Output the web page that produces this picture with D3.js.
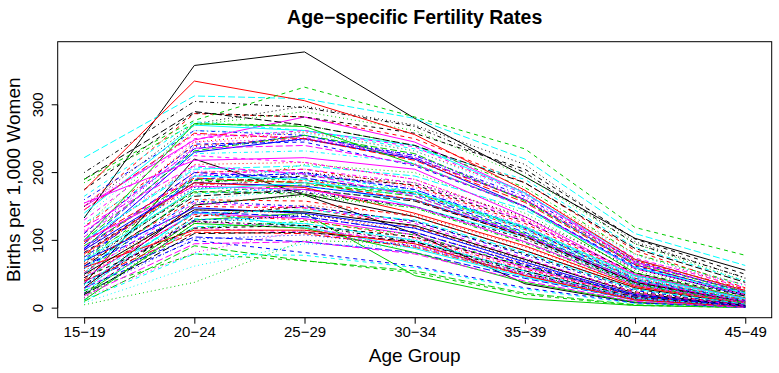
<!DOCTYPE html>
<html>
<head>
<meta charset="utf-8">
<script src="https://cdn.jsdelivr.net/npm/d3@7/dist/d3.min.js"></script>
<style>
  body { margin: 0; background: #fff; }
  text { font-family: "Liberation Sans", Arial, Helvetica, sans-serif; fill: #000; }
</style>
</head>
<body>
<svg width="779" height="373"></svg>
<script>
// age groups (x categories) and y axis ticks
const ageGroups = ["15\u221219", "20\u221224", "25\u221229", "30\u221234", "35\u221239", "40\u221244", "45\u221249"];
const yTicks = [0, 100, 200, 300];

// births per 1,000 women, one row per population
// each block of 30 runs through the full colour x line-type cycle
const ratesA = [
  [133, 358, 378, 280, 194, 103, 56],
  [150, 287, 282, 250, 185, 85, 30],
  [120, 270, 290, 262, 195, 95, 40],
  [160, 262, 255, 225, 165, 70, 22],
  [222, 313, 309, 280, 220, 110, 63],
  [150, 248, 282, 245, 170, 68, 24],
  [175, 288, 282, 258, 205, 102, 50],
  [110, 245, 260, 232, 172, 80, 28],
  [185, 272, 270, 240, 178, 80, 34],
  [95, 235, 255, 222, 160, 64, 20],
  [140, 270, 262, 240, 170, 72, 26],
  [130, 250, 262, 238, 168, 74, 30],
  [150, 272, 298, 270, 212, 98, 44],
  [120, 240, 250, 220, 160, 70, 28],
  [100, 232, 255, 228, 158, 66, 24],
  [88, 230, 250, 220, 150, 60, 18],
  [165, 275, 262, 235, 190, 90, 40],
  [155, 245, 250, 226, 162, 72, 35],
  [200, 305, 296, 268, 200, 95, 45],
  [145, 258, 250, 218, 156, 64, 20],
  [100, 272, 268, 212, 150, 52, 15],
  [110, 242, 245, 210, 150, 62, 22],
  [135, 262, 258, 232, 168, 78, 33],
  [145, 256, 252, 222, 160, 66, 26],
  [190, 290, 270, 240, 185, 88, 38],
  [174, 335, 306, 256, 174, 72, 26],
  [190, 277, 326, 282, 235, 119, 78],
  [105, 238, 248, 226, 160, 68, 24],
  [125, 228, 232, 214, 148, 60, 22],
  [112, 236, 240, 212, 150, 58, 20]
];

const ratesB = [
  [36, 220, 167, 110, 36, 8, 2],
  [85, 200, 205, 180, 125, 48, 14],
  [60, 178, 212, 200, 140, 55, 18],
  [72, 195, 198, 175, 120, 44, 12],
  [100, 205, 210, 195, 145, 60, 22],
  [155, 218, 222, 205, 135, 50, 14],
  [82, 185, 195, 182, 128, 52, 18],
  [95, 212, 215, 190, 132, 50, 16],
  [70, 188, 190, 172, 118, 42, 12],
  [88, 200, 192, 168, 112, 40, 10],
  [50, 195, 190, 150, 105, 36, 8],
  [105, 225, 215, 190, 130, 48, 14],
  [65, 175, 200, 185, 135, 58, 20],
  [78, 182, 188, 170, 116, 44, 12],
  [92, 190, 185, 165, 110, 40, 10],
  [86, 185, 180, 160, 108, 38, 9],
  [58, 168, 178, 168, 118, 46, 14],
  [115, 202, 200, 178, 122, 46, 13],
  [68, 172, 170, 150, 102, 36, 9],
  [98, 192, 185, 160, 105, 38, 10],
  [20, 130, 140, 48, 14, 4, 1],
  [75, 190, 200, 175, 118, 42, 11],
  [48, 160, 175, 160, 112, 44, 13],
  [90, 196, 205, 185, 128, 50, 15],
  [62, 165, 175, 158, 106, 38, 10],
  [80, 185, 178, 140, 92, 32, 8],
  [52, 170, 182, 170, 120, 48, 16],
  [82, 178, 172, 150, 98, 34, 8],
  [100, 208, 198, 172, 115, 42, 11],
  [120, 210, 198, 165, 108, 40, 10]
];

const ratesC = [
  [30, 152, 168, 135, 85, 30, 6],
  [42, 150, 148, 120, 72, 24, 5],
  [5, 38, 100, 95, 50, 14, 2],
  [34, 130, 135, 112, 65, 20, 4],
  [25, 120, 125, 100, 55, 16, 3],
  [45, 140, 132, 108, 60, 18, 3],
  [22, 135, 150, 128, 80, 28, 6],
  [55, 145, 140, 112, 66, 20, 4],
  [18, 118, 128, 108, 62, 18, 3],
  [40, 105, 98, 82, 44, 12, 2],
  [28, 142, 120, 88, 46, 12, 2],
  [38, 128, 118, 96, 52, 15, 3],
  [15, 125, 138, 118, 70, 24, 5],
  [48, 138, 130, 104, 58, 17, 3],
  [10, 92, 70, 55, 22, 5, 1],
  [70, 148, 140, 118, 68, 20, 4],
  [12, 80, 78, 60, 28, 7, 1],
  [15, 82, 115, 102, 56, 16, 3],
  [35, 128, 122, 98, 52, 14, 2],
  [40, 112, 110, 90, 48, 13, 2],
  [12, 125, 118, 82, 38, 9, 1],
  [30, 100, 82, 62, 30, 8, 1],
  [8, 62, 95, 90, 48, 14, 2],
  [28, 118, 112, 92, 50, 14, 2],
  [20, 110, 112, 98, 55, 16, 3],
  [60, 115, 115, 95, 48, 12, 2],
  [26, 80, 70, 52, 20, 4, 1],
  [22, 102, 108, 92, 50, 14, 2],
  [45, 132, 125, 100, 54, 15, 3],
  [18, 95, 98, 80, 40, 10, 1]
];

const ratesD = [
  [50, 145, 142, 122, 72, 22, 4],
  [65, 160, 158, 135, 85, 30, 7],
  [40, 155, 165, 148, 98, 36, 9],
  [58, 158, 150, 128, 78, 26, 5],
  [35, 140, 145, 130, 82, 28, 6],
  [100, 180, 175, 150, 98, 34, 8],
  [45, 118, 122, 105, 62, 19, 3],
  [30, 135, 152, 138, 90, 32, 8],
  [76, 172, 168, 148, 96, 34, 8],
  [62, 142, 135, 112, 64, 18, 3],
  [70, 175, 185, 172, 120, 48, 14],
  [52, 155, 148, 125, 74, 22, 4]
];

const rates = ratesA.concat(ratesB, ratesC, ratesD);

// R matplot defaults: col = 1:6, lty = 1:5
const lineColors = ["#000000", "#FF0000", "#00CD00", "#0000FF", "#00FFFF", "#FF00FF"];
const lineDashes = [null, "4,4", "1,3", "1,3,4,3", "7,3"];

const svg = d3.select("svg");
const plotL = 57.7, plotR = 771.7, plotT = 41.7, plotB = 317.7;

// 4% padding on both axes like R
const nx = ageGroups.length;
const x = d3.scaleLinear()
  .domain([-(nx - 1) * 0.04, (nx - 1) * 1.04])
  .range([plotL, plotR]);

const allVals = rates.flat();
const ymin = d3.min(allVals), ymax = d3.max(allVals);
const ypad = (ymax - ymin) * 0.04;
const y = d3.scaleLinear()
  .domain([ymin - ypad, ymax + ypad])
  .range([plotB, plotT]);

const line = d3.line()
  .x((d, i) => x(i))
  .y(d => y(d));

// lines
svg.append("g")
  .selectAll("path")
  .data(rates)
  .join("path")
  .attr("d", line)
  .attr("fill", "none")
  .attr("stroke", (d, i) => lineColors[i % 6])
  .attr("stroke-width", 1)
  .attr("stroke-dasharray", (d, i) => lineDashes[i % 5]);

// box
svg.append("rect")
  .attr("x", plotL).attr("y", plotT)
  .attr("width", plotR - plotL).attr("height", plotB - plotT)
  .attr("fill", "none").attr("stroke", "#000").attr("stroke-width", 1);

// x axis
const xAxis = d3.axisBottom(x)
  .tickValues(d3.range(nx))
  .tickFormat(i => ageGroups[i])
  .tickSize(6).tickPadding(3);
const gx = svg.append("g")
  .attr("transform", `translate(0,${plotB})`)
  .call(xAxis);
gx.select(".domain").attr("d", `M${x(0)},0H${x(nx - 1)}`);
gx.selectAll("text").attr("font-size", 15).attr("font-family", null);

// y axis, labels turned like R's default las = 0
const yAxis = d3.axisLeft(y)
  .tickValues(yTicks)
  .tickSize(6).tickPadding(3);
const gy = svg.append("g")
  .attr("transform", `translate(${plotL},0)`)
  .call(yAxis);
gy.select(".domain").attr("d", `M0,${y(yTicks[0])}V${y(yTicks[yTicks.length - 1])}`);
gy.selectAll(".tick").attr("transform", null);
gy.selectAll(".tick line").attr("transform", d => `translate(0,${y(d)})`);
gy.selectAll(".tick text")
  .attr("font-size", 15).attr("font-family", null)
  .attr("x", null).attr("dy", null).attr("y", 0)
  .attr("text-anchor", "middle")
  .attr("transform", d => `translate(-15,${y(d)}) rotate(-90)`);

// title and axis labels
svg.append("text")
  .attr("x", (plotL + plotR) / 2).attr("y", 24)
  .attr("text-anchor", "middle")
  .attr("font-weight", "bold").attr("font-size", 19.5)
  .text("Age\u2212specific Fertility Rates");

svg.append("text")
  .attr("x", (plotL + plotR) / 2).attr("y", 362)
  .attr("text-anchor", "middle")
  .attr("font-size", 19)
  .text("Age Group");

svg.append("text")
  .attr("transform", `translate(20,${(plotT + plotB) / 2}) rotate(-90)`)
  .attr("text-anchor", "middle")
  .attr("font-size", 19)
  .text("Births per 1,000 Women");
</script>
</body>
</html>
